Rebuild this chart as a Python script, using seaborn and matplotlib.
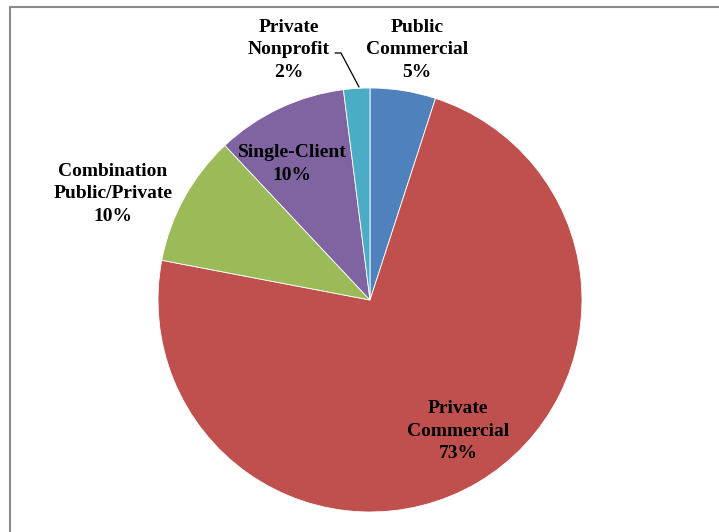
import matplotlib
matplotlib.use("Agg")
import matplotlib.pyplot as plt
import seaborn as sns
from matplotlib.lines import Line2D

categories = ["Public\nCommercial", "Private\nCommercial", "Combination\nPublic/Private",
              "Single-Client", "Private\nNonprofit"]
values = [5, 73, 10, 10, 2]
colors = ["#4F81BD", "#C0504D", "#9BBB59", "#8064A2", "#4BACC6"]

sns.set_theme(style="white")
plt.rcParams['font.family'] = ['Liberation Serif', 'DejaVu Serif']

W, H = 719, 532
fig = plt.figure(figsize=(W / 100, H / 100), dpi=100)
ax = fig.add_axes([0, 0, 1, 1])

cx, cy, r = 370, H - 300, 212
ax.pie(values, colors=sns.color_palette(colors), startangle=90, counterclock=False,
       center=(cx, cy), radius=r, frame=True,
       wedgeprops=dict(edgecolor="white", linewidth=0.6))
ax.set_xlim(0, W)
ax.set_ylim(0, H)
ax.set_aspect("equal")
ax.axis("off")

# labels (positions in pixel coords from top)
label_pos = [(417, 50), (458, 431), (113, 194), (292, 164), (289, 50)]
for cat, v, (x, y) in zip(categories, values, label_pos):
    ax.text(x, H - y, f"{cat}\n{v}%", ha="center", va="center", fontsize=14,
            fontweight="bold", color="black", linespacing=1.4)

# leader line for Private Nonprofit
ax.plot([335, 341, 359], [H - 53, H - 53, H - 87], color="black", lw=0.9)

# border frame
fig.add_artist(Line2D([9.5 / W, 9.5 / W], [0, 1 - 6.5 / H], transform=fig.transFigure,
                      color="#8c8c8c", lw=1.5))
fig.add_artist(Line2D([9.5 / W, 1], [1 - 6.5 / H, 1 - 6.5 / H], transform=fig.transFigure,
                      color="#8c8c8c", lw=1.5))

fig.savefig("out.png", dpi=100, facecolor="white")
